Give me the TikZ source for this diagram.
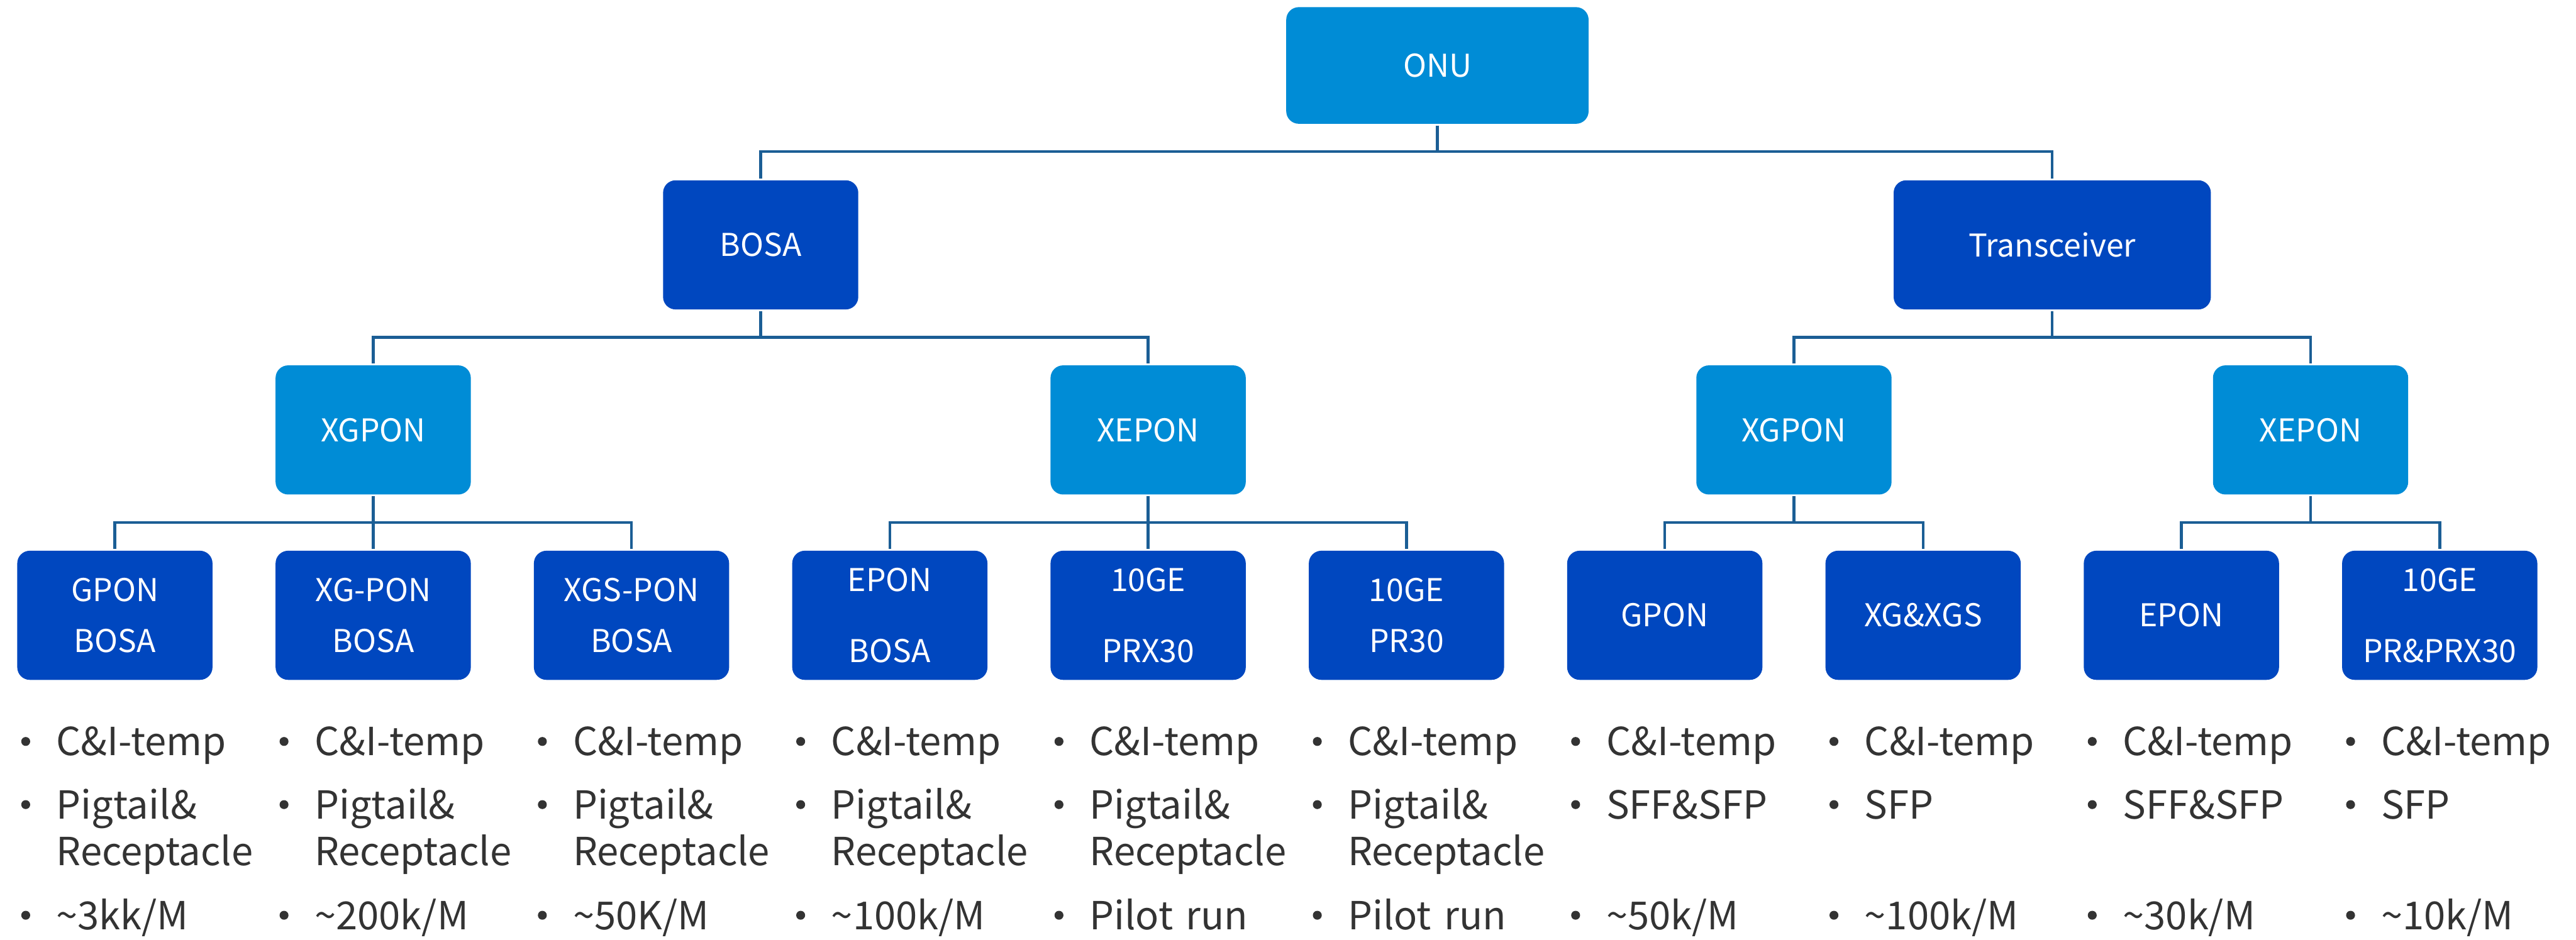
\documentclass[tikz,border=0pt]{standalone}
\usepackage{fontspec}
\setmainfont{Noto Sans CJK SC}
\usetikzlibrary{positioning}
\definecolor{lightblue}{HTML}{008CD6}
\definecolor{deepblue}{HTML}{0047BF}
\definecolor{linkblue}{HTML}{1B5E95}
\definecolor{txtgray}{HTML}{333333}
\newcommand{\bul}{\leavevmode\llap{\tikz[baseline=0pt]\fill[txtgray] (0,0.24) circle (0.075);\hspace{0.44cm}}}

\begin{document}
\begin{tikzpicture}[
    box/.style={rounded corners=6pt, inner sep=0pt, outer sep=0.03cm, align=center, text=white, font=\fontsize{15}{24.5}\selectfont, minimum width=3.28cm, minimum height=2.17cm},
    lightbox/.style={box, fill=lightblue},
    darkbox/.style={box, fill=deepblue},
    link/.style={draw=linkblue, line width=1.3pt},
    feat/.style={anchor=base west, inner sep=0pt, text width=3.8cm, align=left, text=txtgray, font=\fontsize{18.5}{22.2}\selectfont}
]
\useasboundingbox (0,0) rectangle (43.28,-15.79);

\coordinate (bar1) at (0,-2.55);
\coordinate (bar2) at (0,-5.67);
\coordinate (bar3) at (0,-8.78);

\node[lightbox, minimum width=5.08cm, minimum height=1.96cm] (onu) at (24.15,-1.10) {ONU};

\node[darkbox] (bosa) at (12.78,-4.115) {BOSA};
\node[darkbox, minimum width=5.33cm] (trx) at (34.48,-4.115) {Transceiver};

\node[lightbox] (xg1) at (6.27,-7.225) {XGPON};
\node[lightbox] (xe1) at (19.29,-7.225) {XEPON};
\node[lightbox] (xg2) at (30.14,-7.225) {XGPON};
\node[lightbox] (xe2) at (38.82,-7.225) {XEPON};

\node[darkbox] (gbosa) at (1.93,-10.34) {GPON\\BOSA};
\node[darkbox] (xgbosa) at (6.27,-10.34) {XG-PON\\BOSA};
\node[darkbox] (xgsbosa) at (10.61,-10.34) {XGS-PON\\BOSA};
\node[darkbox] (ebosa) at (14.95,-10.34) {EPON\\[9.4pt]BOSA};
\node[darkbox] (prx) at (19.29,-10.34) {10GE\\[9.4pt]PRX30};
\node[darkbox] (pr) at (23.63,-10.34) {10GE\\PR30};
\node[darkbox] (gtrx) at (27.97,-10.34) {GPON};
\node[darkbox] (xgtrx) at (32.31,-10.34) {XG\&XGS};
\node[darkbox] (etrx) at (36.65,-10.34) {EPON};
\node[darkbox] (tentrx) at (40.99,-10.34) {10GE\\[9.4pt]PR\&PRX30};

\draw[link] (onu.south) -- (onu.south |- bar1);
\draw[link] (bosa.north) |- (trx.north |- bar1) -- (trx.north);

\draw[link] (bosa.south) -- (bosa.south |- bar2);
\draw[link] (xg1.north) |- (xe1.north |- bar2) -- (xe1.north);
\draw[link] (trx.south) -- (trx.south |- bar2);
\draw[link] (xg2.north) |- (xe2.north |- bar2) -- (xe2.north);

\draw[link] (xg1) -- (xgbosa);
\draw[link] (gbosa.north) |- (xgsbosa.north |- bar3) -- (xgsbosa.north);
\draw[link] (xe1) -- (prx);
\draw[link] (ebosa.north) |- (pr.north |- bar3) -- (pr.north);
\draw[link] (xg2.south) -- (xg2.south |- bar3);
\draw[link] (gtrx.north) |- (xgtrx.north |- bar3) -- (xgtrx.north);
\draw[link] (xe2.south) -- (xe2.south |- bar3);
\draw[link] (etrx.north) |- (tentrx.north |- bar3) -- (tentrx.north);

\node[feat] (f1) at (0.94,-12.70) {\bul C\&I-temp\\[8pt]\bul Pigtail\&\\Receptacle\\[8.5pt]\bul \textasciitilde 3kk/M};
\node[feat] (f2) at (5.28,-12.70) {\bul C\&I-temp\\[8pt]\bul Pigtail\&\\Receptacle\\[8.5pt]\bul \textasciitilde 200k/M};
\node[feat] (f3) at (9.62,-12.70) {\bul C\&I-temp\\[8pt]\bul Pigtail\&\\Receptacle\\[8.5pt]\bul \textasciitilde 50K/M};
\node[feat] (f4) at (13.96,-12.70) {\bul C\&I-temp\\[8pt]\bul Pigtail\&\\Receptacle\\[8.5pt]\bul \textasciitilde 100k/M};
\node[feat] (f5) at (18.30,-12.70) {\bul C\&I-temp\\[8pt]\bul Pigtail\&\\Receptacle\\[8.5pt]\bul Pilot run};
\node[feat] (f6) at (22.64,-12.70) {\bul C\&I-temp\\[8pt]\bul Pigtail\&\\Receptacle\\[8.5pt]\bul Pilot run};
\node[feat] (f7) at (26.98,-12.70) {\bul C\&I-temp\\[8pt]\bul SFF\&SFP\\[30.7pt]\bul \textasciitilde 50k/M};
\node[feat] (f8) at (31.32,-12.70) {\bul C\&I-temp\\[8pt]\bul SFP\\[30.7pt]\bul \textasciitilde 100k/M};
\node[feat] (f9) at (35.66,-12.70) {\bul C\&I-temp\\[8pt]\bul SFF\&SFP\\[30.7pt]\bul \textasciitilde 30k/M};
\node[feat] (f10) at (40.00,-12.70) {\bul C\&I-temp\\[8pt]\bul SFP\\[30.7pt]\bul \textasciitilde 10k/M};
\end{tikzpicture}
\end{document}
